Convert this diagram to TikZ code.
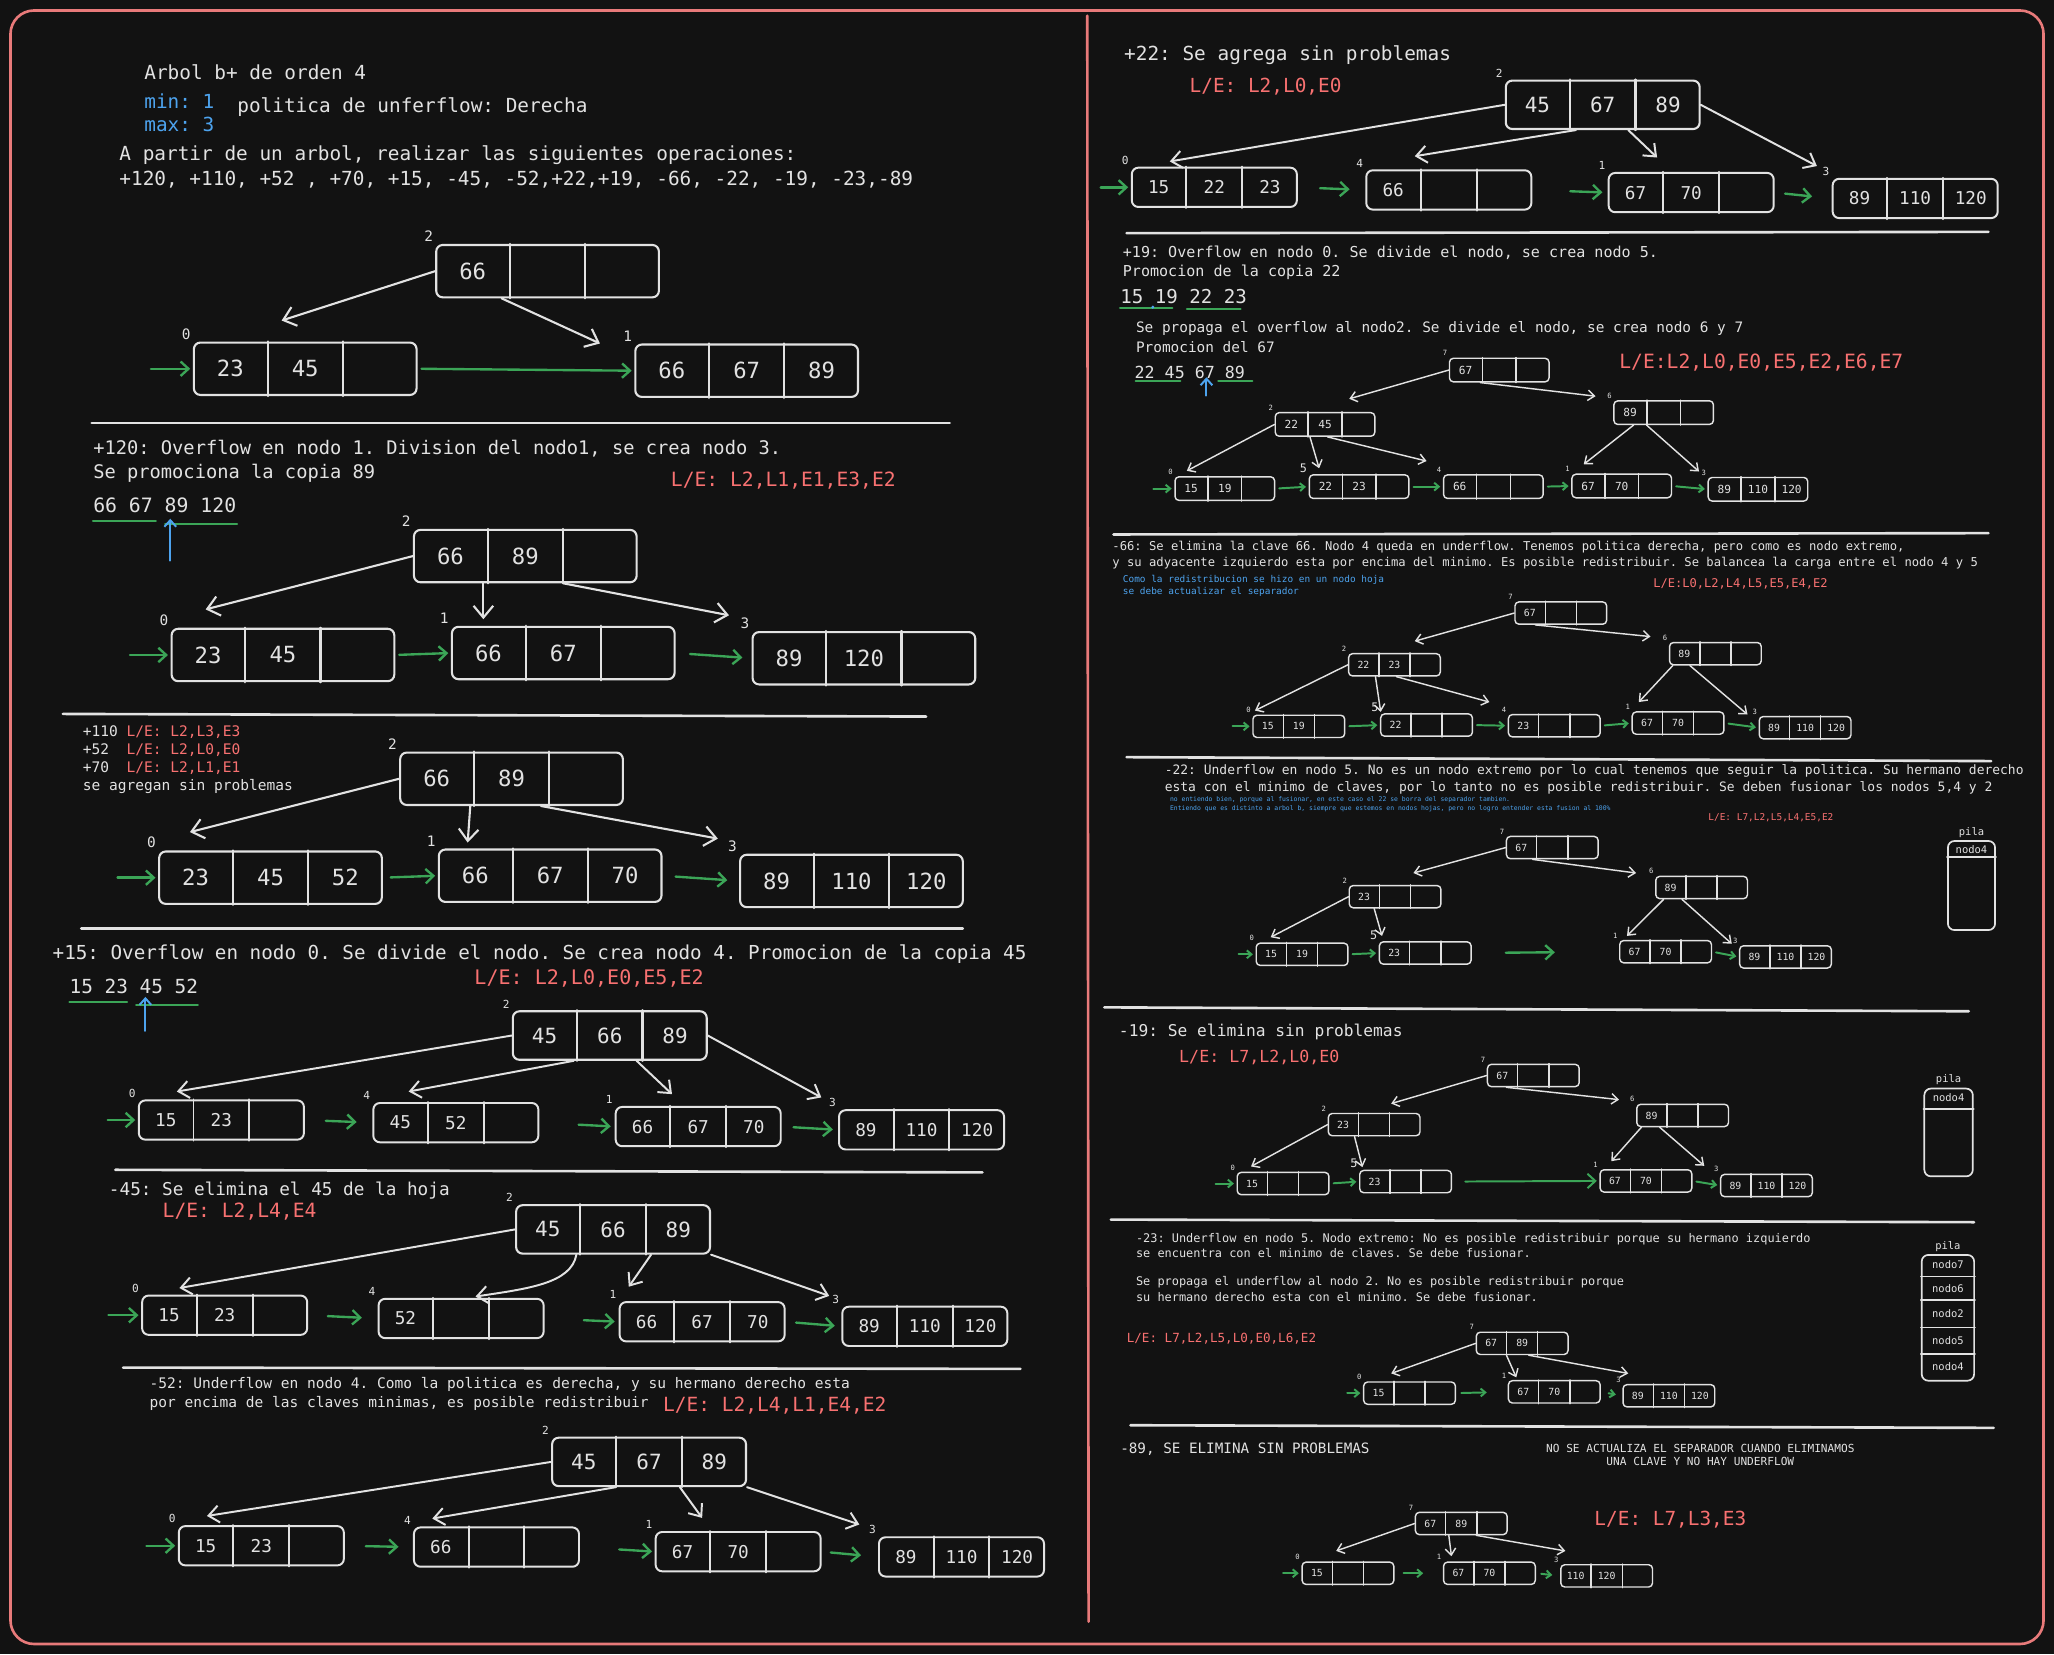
\documentclass[tikz,border=0pt]{standalone}
\usepackage{fontspec}
\setmainfont{DejaVu Sans Mono}
\usepackage{tikz}
\usetikzlibrary{arrows.meta, positioning, calc}
\definecolor{bgDark}{HTML}{121212}
\definecolor{frameRed}{HTML}{E87A7A}
\definecolor{inkWhite}{HTML}{E2E2E2}
\definecolor{leRed}{HTML}{F87171}
\definecolor{noteBlue}{HTML}{4DA3EE}
\definecolor{linkGreen}{HTML}{3BA557}
\frenchspacing

\newcommand{\bpnode}[7]{%
  \node[#1box] (#2) at (#3) {};
  \draw[#1cell] ($(#2.north west)!0.333!(#2.north east)$) -- ($(#2.south west)!0.333!(#2.south east)$);
  \draw[#1cell] ($(#2.north west)!0.667!(#2.north east)$) -- ($(#2.south west)!0.667!(#2.south east)$);
  \node[#1key] (#2-k1) at ($(#2.west)!0.167!(#2.east)$) {#5};
  \node[#1key] (#2-k2) at (#2.center) {#6};
  \node[#1key] (#2-k3) at ($(#2.west)!0.833!(#2.east)$) {#7};
  \node[#1num] (#2-n) at (#2.north west) {#4};
}

\begin{document}
\frenchspacing
\begin{tikzpicture}[x=1pt, y=-1pt, line cap=round, line join=round,
  txt/.style={inner sep=0pt, anchor=west, align=left, text=inkWhite},
  le/.style={txt, text=leRed},
  note/.style={txt, text=noteBlue},
  bigbox/.style={draw=inkWhite, line width=1.6pt, rounded corners=5pt, inner sep=0pt,
                 minimum width=170pt, minimum height=40pt},
  midtopbox/.style={bigbox, minimum width=148pt, minimum height=37pt},
  midbox/.style={bigbox, line width=1.5pt, minimum width=126pt, minimum height=30pt},
  smallbox/.style={bigbox, line width=1.1pt, rounded corners=3pt, minimum width=76pt, minimum height=18pt},
  tinybox/.style={smallbox, minimum width=70pt, minimum height=17pt},
  bigcell/.style={draw=inkWhite, line width=1.6pt},
  midtopcell/.style={bigcell},
  midcell/.style={bigcell, line width=1.5pt},
  smallcell/.style={bigcell, line width=1.1pt},
  tinycell/.style={smallcell},
  bigkey/.style={inner sep=0pt, text=inkWhite, font=\fontsize{17}{17}\selectfont},
  midtopkey/.style={bigkey, font=\fontsize{16}{16}\selectfont},
  midkey/.style={bigkey, font=\fontsize{13.5}{13.5}\selectfont},
  smallkey/.style={bigkey, font=\fontsize{8.5}{8.5}\selectfont},
  tinykey/.style={bigkey, font=\fontsize{7.5}{7.5}\selectfont},
  bignum/.style={inner sep=1.5pt, anchor=south east, text=inkWhite, font=\fontsize{11}{11}\selectfont},
  midtopnum/.style={bignum, font=\fontsize{8.5}{8.5}\selectfont},
  midnum/.style={midtopnum},
  smallnum/.style={bignum, inner sep=1pt, font=\fontsize{5.5}{5.5}\selectfont},
  tinynum/.style={smallnum},
  tarr/.style={draw=inkWhite, line width=1.6pt, -{Straight Barb[length=9pt,width=15pt]}},
  mtarr/.style={tarr, line width=1.5pt, -{Straight Barb[length=8pt,width=13pt]}},
  starr/.style={tarr, line width=1.1pt, -{Straight Barb[length=5pt,width=8pt]}},
  garr/.style={draw=linkGreen, line width=1.8pt, -{Straight Barb[length=6pt,width=11pt]},
               shorten <=3pt, shorten >=2pt},
  sgarr/.style={garr, line width=1.5pt, -{Straight Barb[length=3.5pt,width=6pt]}},
  barr/.style={draw=noteBlue, line width=1.5pt, -{Straight Barb[length=5pt,width=9pt]}},
  uline/.style={draw=linkGreen, line width=1.6pt},
  sepline/.style={draw=inkWhite, line width=2pt},
  pilabox/.style={draw=inkWhite, line width=1.3pt, rounded corners=5pt, inner sep=0pt},
  pilaline/.style={draw=inkWhite, line width=1.3pt},
  pilatxt/.style={inner sep=0pt, text=inkWhite, font=\fontsize{8}{8}\selectfont}
]
  \useasboundingbox (0,0) rectangle (1568,1263);
  \fill[bgDark] (0,0) rectangle (1568,1263);
  \draw[frameRed, line width=2pt, rounded corners=18pt] (8,8) rectangle (1560,1255);
  \draw[frameRed, line width=2pt] (830,12) -- (831,1238);

  % enunciado
  \node[txt, font=\fontsize{14.8}{18}\selectfont] (title) at (110,55) {Arbol b+ de orden 4};
  \node[note, font=\fontsize{14.8}{18}\selectfont] (minmax) at (110,86) {min: 1\\max: 3};
  \node[txt, font=\fontsize{14.8}{18}\selectfont] (policy) at (181,82) {politica de unferflow: Derecha};
  \node[txt, font=\fontsize{14.8}{19}\selectfont] (ops) at (91,127.5) {A partir de un arbol, realizar las siguientes operaciones:\\+120, +110, +52 , +70, +15, -45, -52,+22,+19, -66, -22, -19, -23,-89};

  \bpnode{big}{r1}{418,207}{2}{66}{}{}
  \bpnode{big}{n1a}{233,281.5}{0}{23}{45}{}
  \bpnode{big}{n1b}{570,283}{1}{66}{67}{89}
  \draw[tarr] (r1.west) -- ([xshift=-18pt,yshift=16pt]n1a.north);
  \draw[tarr] ([xshift=-35pt]r1.south) -- ([xshift=-112pt]n1b.north);
  \draw[garr] ([xshift=-35pt]n1a.west) -- (n1a.west);
  \draw[garr] (n1a.east) -- (n1b.west);
  \draw[sepline] (70,323) -- (725,323);

  % +120
  \node[txt, font=\fontsize{14.3}{18}\selectfont] (op120) at (71,352) {+120: Overflow en nodo 1. Division del nodo1, se crea nodo 3.\\Se promociona la copia 89};
  \node[le, font=\fontsize{15}{15}\selectfont] (le120) at (512,367) {L/E: L2,L1,E1,E3,E2};
  \node[txt, font=\fontsize{15.1}{15}\selectfont] (seq1) at (71,386) {66 67 89 120};
  \draw[uline] ([yshift=-12pt]seq1.west) -- ++(48,0);
  \draw[uline] ([xshift=55pt,yshift=-14pt]seq1.west) -- ++(55,0);
  \draw[barr] ([xshift=59pt,yshift=-42pt]seq1.west) -- ([xshift=59pt,yshift=-10pt]seq1.west);

  \bpnode{big}{r2}{401,424.5}{2}{66}{89}{}
  \bpnode{big}{n2a}{216,500}{0}{23}{45}{}
  \bpnode{big}{n2b}{430,498.5}{1}{66}{67}{}
  \bpnode{big}{n2c}{659.5,502.5}{3}{89}{120}{}
  \draw[tarr] (r2.west) -- ([xshift=-59pt,yshift=14pt]n2a.north);
  \draw[tarr] ([xshift=-32pt]r2.south) -- ([xshift=-61pt,yshift=5pt]n2b.north);
  \draw[tarr] ([xshift=29pt]r2.south) -- ([xshift=-103pt,yshift=12pt]n2c.north);
  \draw[garr] ([xshift=-34pt]n2a.west) -- (n2a.west);
  \draw[garr] (n2a.east) -- (n2b.west);
  \draw[garr, shorten <=11pt, shorten >=7pt] (n2b.east) -- (n2c.west);
  \draw[sepline] (48,545) -- (707,547);

  % +110 +52 +70
  \node[txt, font=\fontsize{11.1}{13.8}\selectfont] (op110) at (63,580) {+110\hphantom{0}\textcolor{leRed}{L/E: L2,L3,E3}\\+52\hphantom{00}\textcolor{leRed}{L/E: L2,L0,E0}\\+70\hphantom{00}\textcolor{leRed}{L/E: L2,L1,E1}\\se agregan sin problemas};

  \bpnode{big}{r3}{390.5,594.5}{2}{66}{89}{}
  \bpnode{big}{n3a}{206.5,670}{0}{23}{45}{52}
  \bpnode{big}{n3b}{420,668.5}{1}{66}{67}{70}
  \bpnode{big}{n3c}{650,672.5}{3}{89}{110}{120}
  \draw[tarr] (r3.west) -- ([xshift=-61.5pt,yshift=14pt]n3a.north);
  \draw[tarr] ([xshift=-31.5pt]r3.south) -- ([xshift=-63pt,yshift=4.5pt]n3b.north);
  \draw[tarr] ([xshift=22.5pt]r3.south) -- ([xshift=-102pt,yshift=11.5pt]n3c.north);
  \draw[garr] ([xshift=-34pt]n3a.west) -- (n3a.west);
  \draw[garr, shorten <=6pt] (n3a.east) -- (n3b.west);
  \draw[garr, shorten <=10pt, shorten >=9pt] (n3b.east) -- (n3c.west);
  \draw[sepline] (62,709) -- (735,709);

  % +15
  \node[txt, font=\fontsize{14.7}{18}\selectfont] (op15) at (40,728) {+15: Overflow en nodo 0. Se divide el nodo. Se crea nodo 4. Promocion de la copia 45};
  \node[le, font=\fontsize{15.3}{15}\selectfont] (le15) at (362,747) {L/E: L2,L0,E0,E5,E2};
  \node[txt, font=\fontsize{14.8}{15}\selectfont] (seq2) at (53,753) {15 23 45 52};
  \draw[uline] ([yshift=-12pt]seq2.west) -- ++(44,0);
  \draw[uline] ([xshift=51pt,yshift=-14pt]seq2.west) -- ++(47,0);
  \draw[barr] ([xshift=58pt,yshift=-34pt]seq2.west) -- ([xshift=58pt,yshift=-8pt]seq2.west);

  \bpnode{midtop}{r4}{465.5,790.5}{2}{45}{66}{89}
  \bpnode{mid}{n4a}{169,855}{0}{15}{23}{}
  \bpnode{mid}{n4b}{348,857}{4}{45}{52}{}
  \bpnode{mid}{n4c}{533,860}{1}{66}{67}{70}
  \bpnode{mid}{n4d}{703.5,862.5}{3}{89}{110}{120}
  \draw[mtarr] (r4.west) -- ([xshift=-34pt,yshift=6pt]n4a.north);
  \draw[mtarr] ([xshift=-27.5pt]r4.south) -- ([xshift=-36pt,yshift=8pt]n4b.north);
  \draw[mtarr] ([xshift=20.5pt]r4.south) -- ([xshift=-20pt,yshift=9pt]n4c.north);
  \draw[mtarr] (r4.east) -- ([xshift=-76.5pt,yshift=9pt]n4d.north);
  \draw[garr] ([xshift=-26pt]n4a.west) -- (n4a.west);
  \draw[garr, shorten <=16pt, shorten >=12pt] (n4a.east) -- (n4b.west);
  \draw[garr, shorten <=30pt, shorten >=3pt] (n4b.east) -- (n4c.west);
  \draw[garr, shorten <=9pt, shorten >=4pt] (n4c.east) -- (n4d.west);
  \draw[sepline] (88,893) -- (750,895);

  % -45
  \node[txt, font=\fontsize{13.5}{15}\selectfont] (op45) at (83,909) {-45: Se elimina el 45 de la hoja};
  \node[le, font=\fontsize{15}{15}\selectfont] (le45) at (124,925) {L/E: L2,L4,E4};

  \bpnode{midtop}{r5}{468,938.5}{2}{45}{66}{89}
  \bpnode{mid}{n5a}{171.5,1004}{0}{15}{23}{}
  \bpnode{mid}{n5b}{352,1006.5}{4}{52}{}{}
  \bpnode{mid}{n5c}{536,1009}{1}{66}{67}{70}
  \bpnode{mid}{n5d}{706,1012.5}{3}{89}{110}{120}
  \draw[mtarr] (r5.west) -- ([xshift=-34.5pt,yshift=5pt]n5a.north);
  \draw[mtarr] ([xshift=-28pt]r5.south) .. controls +(-4,22) and +(40,-6) .. ([xshift=11pt,yshift=1pt]n5b.north);
  \draw[mtarr] ([xshift=29pt]r5.south) -- ([xshift=-56pt,yshift=11pt]n5c.north);
  \draw[mtarr] (r5.south east) -- ([xshift=-73pt,yshift=7.5pt]n5d.north);
  \draw[garr] ([xshift=-28pt]n5a.west) -- (n5a.west);
  \draw[garr, shorten <=15pt, shorten >=12pt] (n5a.east) -- (n5b.west);
  \draw[garr, shorten <=30pt, shorten >=3pt] (n5b.east) -- (n5c.west);
  \draw[garr, shorten <=8pt, shorten >=5pt] (n5c.east) -- (n5d.west);
  \draw[sepline] (94,1044) -- (779,1045);

  % -52
  \node[txt, font=\fontsize{11.1}{14}\selectfont] (op52) at (114,1064) {-52: Underflow en nodo 4. Como la politica es derecha, y su hermano derecho esta\\por encima de las claves minimas, es posible redistribuir};
  \node[le, font=\fontsize{14.9}{15}\selectfont] (le52) at (506,1073) {L/E: L2,L4,L1,E4,E2};

  \bpnode{midtop}{r6}{495.5,1116}{2}{45}{67}{89}
  \bpnode{mid}{n6a}{199.5,1180}{0}{15}{23}{}
  \bpnode{mid}{n6b}{379,1181}{4}{66}{}{}
  \bpnode{mid}{n6c}{563.5,1184.5}{1}{67}{70}{}
  \bpnode{mid}{n6d}{734,1188.5}{3}{89}{110}{120}
  \draw[mtarr] (r6.west) -- ([xshift=-41.5pt,yshift=7pt]n6a.north);
  \draw[mtarr] ([xshift=-25.5pt]r6.south) -- ([xshift=-49pt,yshift=6pt]n6b.north);
  \draw[mtarr] ([xshift=23.5pt]r6.south) -- ([xshift=-27.5pt,yshift=10pt]n6c.north);
  \draw[mtarr] (r6.south east) -- ([xshift=-78pt,yshift=9pt]n6d.north);
  \draw[garr] ([xshift=-27pt]n6a.west) -- (n6a.west);
  \draw[garr, shorten <=16pt, shorten >=11pt] (n6a.east) -- (n6b.west);
  \draw[garr, shorten <=30pt, shorten >=2pt] (n6b.east) -- (n6c.west);
  \draw[garr, shorten <=7pt, shorten >=13pt] (n6c.east) -- (n6d.west);

  % +22
  \node[txt, font=\fontsize{14.8}{15}\selectfont] (op22) at (858,42) {+22: Se agrega sin problemas};
  \node[le, font=\fontsize{14.8}{15}\selectfont] (le22) at (908,66) {L/E: L2,L0,E0};

  \bpnode{midtop}{r7}{1223.5,80}{2}{45}{67}{89}
  \bpnode{mid}{n7a}{927,143}{0}{15}{22}{23}
  \bpnode{mid}{n7b}{1106,145}{4}{66}{}{}
  \bpnode{mid}{n7c}{1291,147}{1}{67}{70}{}
  \bpnode{mid}{n7d}{1462,151.5}{3}{89}{110}{120}
  \draw[mtarr] (r7.west) -- ([xshift=-34pt,yshift=4pt]n7a.north);
  \draw[mtarr] ([xshift=-20.5pt]r7.south) -- ([xshift=-26pt,yshift=10pt]n7b.north);
  \draw[mtarr] ([xshift=19.5pt]r7.south) -- ([xshift=-26pt,yshift=11pt]n7c.north);
  \draw[mtarr] (r7.east) -- ([xshift=-75pt,yshift=9pt]n7d.north);
  \draw[garr] ([xshift=-26pt]n7a.west) -- (n7a.west);
  \draw[garr, shorten <=17pt, shorten >=12pt] (n7a.east) -- (n7b.west);
  \draw[garr, shorten <=29pt, shorten >=4pt] (n7b.east) -- (n7c.west);
  \draw[garr, shorten <=8pt, shorten >=15pt] (n7c.east) -- (n7d.west);
  \draw[sepline] (860,178) -- (1518,177);

  % +19
  \node[txt, font=\fontsize{11.5}{15}\selectfont] (op19) at (857,200.5) {+19: Overflow en nodo 0. Se divide el nodo, se crea nodo 5.\\Promocion de la copia 22};
  \node[txt, font=\fontsize{14.6}{15}\selectfont] (seq3) at (855,226) {15 19 22 23};
  \draw[uline] ([yshift=-9pt]seq3.west) -- ++(40,0);
  \draw[uline] ([xshift=51pt,yshift=-10pt]seq3.west) -- ++(41,0);
  \fill[noteBlue] ([xshift=25pt,yshift=-8.5pt]seq3.west) circle (1.3pt);
  \node[txt, font=\fontsize{11}{15}\selectfont] (op19b) at (867,257.5) {Se propaga el overflow al nodo2. Se divide el nodo, se crea nodo 6 y 7\\Promocion del 67};
  \node[txt, font=\fontsize{12.7}{13}\selectfont] (seq4) at (866,284) {22 45 67 89};
  \draw[uline] ([xshift=1pt,yshift=-7pt]seq4.west) -- ++(34,0);
  \draw[uline] ([xshift=64pt,yshift=-7pt]seq4.west) -- ++(26,0);
  \draw[barr] ([xshift=55pt,yshift=-18pt]seq4.west) -- ([xshift=55pt,yshift=-4pt]seq4.west);
  \node[le, font=\fontsize{15}{15}\selectfont] (le19) at (1236,277) {L/E:L2,L0,E0,E5,E2,E6,E7};

  \bpnode{small}{a7}{1144.5,282.5}{7}{67}{}{}
  \bpnode{small}{a2}{1011.5,324}{2}{22}{45}{}
  \bpnode{small}{a6}{1270,315}{6}{89}{}{}
  \bpnode{small}{a0}{935,373}{0}{15}{19}{}
  \bpnode{small}{a5}{1037.5,371.5}{\fontsize{9}{9}\selectfont 5}{22}{23}{}
  \bpnode{small}{a4}{1140,371.5}{4}{66}{}{}
  \bpnode{small}{a1}{1238,371}{1}{67}{70}{}
  \bpnode{small}{a3}{1342,373.5}{3}{89}{110}{120}
  \draw[starr] (a7.west) -- ([xshift=18.5pt,yshift=10pt]a2.north);
  \draw[starr] ([xshift=-14.5pt]a7.south) -- ([xshift=-52pt,yshift=3pt]a6.north);
  \draw[starr] (a2.west) -- ([xshift=-29pt,yshift=4pt]a0.north);
  \draw[starr] ([xshift=-11.5pt]a2.south) -- ([xshift=-30.5pt,yshift=4.5pt]a5.north);
  \draw[starr] ([xshift=2pt]a2.south) -- ([xshift=-51pt,yshift=10pt]a4.north);
  \draw[starr] ([xshift=-23pt]a6.south) -- ([xshift=-29pt,yshift=7pt]a1.north);
  \draw[starr] ([xshift=-13pt]a6.south) -- ([xshift=-45pt,yshift=4pt]a3.north);
  \draw[sgarr] ([xshift=-19pt]a0.west) -- (a0.west);
  \draw[sgarr] (a0.east) -- (a5.west);
  \draw[sgarr] (a5.east) -- (a4.west);
  \draw[sgarr] (a4.east) -- (a1.west);
  \draw[sgarr] (a1.east) -- (a3.west);
  \draw[sepline] (850,408) -- (1518,407);

  % -66
  \node[txt, font=\fontsize{9.3}{12}\selectfont] (op66) at (849,424) {-66: Se elimina la clave 66. Nodo 4 queda en underflow. Tenemos politica derecha, pero como es nodo extremo,\\y su adyacente izquierdo esta por encima del minimo. Es posible redistribuir. Se balancea la carga entre el nodo 4 y 5};
  \node[note, font=\fontsize{7.2}{9}\selectfont] (nb66) at (857,447.5) {Como la redistribucion se hizo en un nodo hoja\\se debe actualizar el separador};
  \node[le, font=\fontsize{9.2}{9}\selectfont] (le66) at (1262,446) {L/E:L0,L2,L4,L5,E5,E4,E2};

  \bpnode{tiny}{b7}{1191.5,468}{7}{67}{}{}
  \bpnode{tiny}{b2}{1064.5,507.5}{2}{22}{23}{}
  \bpnode{tiny}{b6}{1309.5,499}{6}{89}{}{}
  \bpnode{tiny}{b0}{991.5,554.5}{0}{15}{19}{}
  \bpnode{tiny}{b5}{1089,553.5}{\fontsize{9}{9}\selectfont 5}{22}{}{}
  \bpnode{tiny}{b4}{1186.5,554}{4}{23}{}{}
  \bpnode{tiny}{b1}{1281,552}{1}{67}{70}{}
  \bpnode{tiny}{b3}{1378,555.5}{3}{89}{110}{120}
  \draw[starr] (b7.west) -- ([xshift=15.5pt,yshift=9pt]b2.north);
  \draw[starr] ([xshift=-19.5pt]b7.south) -- ([xshift=-49.5pt,yshift=4pt]b6.north);
  \draw[starr] (b2.west) -- ([xshift=-33.5pt,yshift=3pt]b0.north);
  \draw[starr] ([xshift=-14.5pt]b2.south) -- ([xshift=-35pt,yshift=1pt]b5.north);
  \draw[starr] ([xshift=1.5pt]b2.south) -- ([xshift=-49.5pt,yshift=9pt]b4.north);
  \draw[starr] ([xshift=-32.5pt]b6.south) -- ([xshift=-30pt,yshift=7pt]b1.north);
  \draw[starr] ([xshift=-19.5pt]b6.south) -- ([xshift=-44pt,yshift=1pt]b3.north);
  \draw[sgarr] ([xshift=-18pt]b0.west) -- (b0.west);
  \draw[sgarr] (b0.east) -- (b5.west);
  \draw[sgarr] (b5.east) -- (b4.west);
  \draw[sgarr] (b4.east) -- (b1.west);
  \draw[sgarr] (b1.east) -- (b3.west);
  \draw[sepline] (860,578) -- (1520,581);

  % -22
  \node[txt, font=\fontsize{9.9}{13.5}\selectfont] (opm22) at (889,595) {-22: Underflow en nodo 5. No es un nodo extremo por lo cual tenemos que seguir la politica. Su hermano derecho\\esta con el minimo de claves, por lo tanto no es posible redistribuir. Se deben fusionar los nodos 5,4 y 2};
  \node[note, font=\fontsize{4.9}{6.5}\selectfont] (nbm22) at (893,614) {no entiendo bien, porque al fusionar, en este caso el 22 se borra del separador tambien.\\Entiendo que es distinto a arbol b, siempre que estemos en nodos hojas, pero no logro entender esta fusion al 100\%};
  \node[le, font=\fontsize{7.2}{7}\selectfont] (lem22) at (1304,624) {L/E: L7,L2,L5,L4,E5,E2};

  \bpnode{tiny}{c7}{1185,647}{7}{67}{}{}
  \bpnode{tiny}{c2}{1065,684.5}{2}{23}{}{}
  \bpnode{tiny}{c6}{1299,677.5}{6}{89}{}{}
  \bpnode{tiny}{c0}{994,728.5}{0}{15}{19}{}
  \bpnode{tiny}{c5}{1088,727.5}{\fontsize{9}{9}\selectfont 5}{23}{}{}
  \bpnode{tiny}{c1}{1271.5,726.5}{1}{67}{70}{}
  \bpnode{tiny}{c3}{1363,730.5}{3}{89}{110}{120}
  \draw[starr] (c7.west) -- ([xshift=14pt,yshift=9pt]c2.north);
  \draw[starr] ([xshift=-15pt]c7.south) -- ([xshift=-50pt,yshift=2pt]c6.north);
  \draw[starr] (c2.west) -- ([xshift=-24pt,yshift=4pt]c0.north);
  \draw[starr] ([xshift=-16pt]c2.south) -- ([xshift=-33pt,yshift=4pt]c5.north);
  \draw[starr] ([xshift=-29pt]c6.south) -- ([xshift=-29.5pt,yshift=3pt]c1.north);
  \draw[starr] ([xshift=-15pt]c6.south) -- ([xshift=-41pt,yshift=1pt]c3.north);
  \draw[sgarr] ([xshift=-16pt]c0.west) -- (c0.west);
  \draw[sgarr] (c0.east) -- (c5.west);
  \draw[garr, shorten <=26pt, shorten >=49pt] (c5.east) -- (c1.west);
  \draw[sgarr] (c1.east) -- (c3.west);

  \node[pilabox, minimum width=36pt, minimum height=68pt] (pila1) at (1505,676) {};
  \draw[pilaline] ([yshift=-13pt]pila1.north west) -- ([yshift=-13pt]pila1.north east);
  \node[pilatxt] (pila1-a) at ([yshift=-7pt]pila1.north) {nodo4};
  \node[pilatxt, anchor=south] (pila1-t) at ([yshift=2pt]pila1.north) {pila};
  \draw[sepline] (843,769) -- (1503,772);

  % -19
  \node[txt, font=\fontsize{12.4}{13}\selectfont] (opm19) at (854,788) {-19: Se elimina sin problemas};
  \node[le, font=\fontsize{12.7}{13}\selectfont] (lem19) at (900,807) {L/E: L7,L2,L0,E0};

  \bpnode{tiny}{d7}{1170.5,821}{7}{67}{}{}
  \bpnode{tiny}{d2}{1049,858.5}{2}{23}{}{}
  \bpnode{tiny}{d6}{1284.5,851.5}{6}{89}{}{}
  \bpnode{tiny}{d0}{979.5,903.5}{0}{15}{}{}
  \bpnode{tiny}{d5}{1073,902}{\fontsize{9}{9}\selectfont 5}{23}{}{}
  \bpnode{tiny}{d1}{1256.5,901.5}{1}{67}{70}{}
  \bpnode{tiny}{d3}{1348.5,905}{3}{89}{110}{120}
  \draw[starr] (d7.west) -- ([xshift=13pt,yshift=7pt]d2.north);
  \draw[starr] ([xshift=-20.5pt]d7.south) -- ([xshift=-48.5pt,yshift=3pt]d6.north);
  \draw[starr] (d2.west) -- ([xshift=-24.5pt,yshift=4pt]d0.north);
  \draw[starr] ([xshift=-15pt]d2.south) -- ([xshift=-33pt,yshift=2pt]d5.north);
  \draw[starr] ([xshift=-31.5pt]d6.south) -- ([xshift=-26.5pt,yshift=6pt]d1.north);
  \draw[starr] ([xshift=-17.5pt]d6.south) -- ([xshift=-47.5pt,yshift=6pt]d3.north);
  \draw[sgarr] ([xshift=-19pt]d0.west) -- (d0.west);
  \draw[sgarr] (d0.east) -- (d5.west);
  \draw[garr, line width=1.5pt, shorten <=10pt, shorten >=2pt] (d5.east) -- (d1.west);
  \draw[sgarr] (d1.east) -- (d3.west);

  \node[pilabox, minimum width=37pt, minimum height=67pt] (pila2) at (1487.5,864.5) {};
  \draw[pilaline] ([yshift=-16pt]pila2.north west) -- ([yshift=-16pt]pila2.north east);
  \node[pilatxt] (pila2-a) at ([yshift=-7.5pt]pila2.north) {nodo4};
  \node[pilatxt, anchor=south] (pila2-t) at ([yshift=2pt]pila2.north) {pila};
  \draw[sepline] (848,931) -- (1507,933);

  % -23
  \node[txt, font=\fontsize{9.1}{11.6}\selectfont] (opm23) at (867,951) {-23: Underflow en nodo 5. Nodo extremo: No es posible redistribuir porque su hermano izquierdo\\se encuentra con el minimo de claves. Se debe fusionar.};
  \node[txt, font=\fontsize{9.1}{11.6}\selectfont] (opm23b) at (867,984) {Se propaga el underflow al nodo 2. No es posible redistribuir porque\\su hermano derecho esta con el minimo. Se debe fusionar.};
  \node[le, font=\fontsize{9.6}{10}\selectfont] (lem23) at (860,1022) {L/E: L7,L2,L5,L0,E0,L6,E2};

  \bpnode{tiny}{e7}{1162,1025.5}{7}{67}{89}{}
  \bpnode{tiny}{e0}{1076,1063.5}{0}{15}{}{}
  \bpnode{tiny}{e1}{1186.5,1062.5}{1}{67}{70}{}
  \bpnode{tiny}{e3}{1274,1065.5}{3}{89}{110}{120}
  \draw[starr] (e7.west) -- ([xshift=-14pt,yshift=6pt]e0.north);
  \draw[starr] ([xshift=-12pt]e7.south) -- ([xshift=-29pt,yshift=2pt]e1.north);
  \draw[starr] ([xshift=5pt]e7.south) -- ([xshift=-31pt,yshift=8pt]e3.north);
  \draw[sgarr] ([xshift=-15pt]e0.west) -- (e0.west);
  \draw[sgarr, shorten <=4pt, shorten >=16pt] (e0.east) -- (e1.west);
  \draw[sgarr, shorten <=6pt, shorten >=5pt] (e1.east) -- (e3.west);

  \node[pilabox, minimum width=40pt, minimum height=96pt] (pila3) at (1487,1006) {};
  \draw[pilaline] ([yshift=-17pt]pila3.north west) -- ([yshift=-17pt]pila3.north east);
  \draw[pilaline] ([yshift=-35pt]pila3.north west) -- ([yshift=-35pt]pila3.north east);
  \draw[pilaline] ([yshift=-56pt]pila3.north west) -- ([yshift=-56pt]pila3.north east);
  \draw[pilaline] ([yshift=-76pt]pila3.north west) -- ([yshift=-76pt]pila3.north east);
  \node[pilatxt] (pila3-a) at ([yshift=-8pt]pila3.north) {nodo7};
  \node[pilatxt] (pila3-b) at ([yshift=-26.5pt]pila3.north) {nodo6};
  \node[pilatxt] (pila3-c) at ([yshift=-45.5pt]pila3.north) {nodo2};
  \node[pilatxt] (pila3-d) at ([yshift=-66pt]pila3.north) {nodo5};
  \node[pilatxt] (pila3-e) at ([yshift=-86pt]pila3.north) {nodo4};
  \node[pilatxt, anchor=south] (pila3-t) at ([yshift=2pt]pila3.north) {pila};
  \draw[sepline] (863,1088) -- (1522,1090);

  % -89
  \node[txt, font=\fontsize{10.9}{11}\selectfont] (opm89) at (855,1106) {-89, SE ELIMINA SIN PROBLEMAS};
  \node[txt, anchor=center, align=center, font=\fontsize{8.5}{10}\selectfont] (nm89) at (1298,1111) {NO SE ACTUALIZA EL SEPARADOR CUANDO ELIMINAMOS\\UNA CLAVE Y NO HAY UNDERFLOW};
  \node[le, font=\fontsize{14.8}{15}\selectfont] (lem89) at (1217,1160) {L/E: L7,L3,E3};

  \bpnode{tiny}{f7}{1115.5,1163}{7}{67}{89}{}
  \bpnode{tiny}{f0}{1029,1201}{0}{15}{}{}
  \bpnode{tiny}{f1}{1137,1201}{1}{67}{70}{}
  \bpnode{tiny}{f3}{1226.5,1203}{3}{110}{120}{}
  \draw[starr] (f7.west) -- ([xshift=-9pt,yshift=8pt]f0.north);
  \draw[starr] ([xshift=-9.5pt]f7.south) -- ([xshift=-29pt,yshift=4pt]f1.north);
  \draw[starr] ([xshift=11.5pt]f7.south) -- ([xshift=-31.5pt,yshift=10pt]f3.north);
  \draw[sgarr] ([xshift=-17pt]f0.west) -- (f0.west);
  \draw[sgarr, shorten <=7pt, shorten >=15pt] (f0.east) -- (f1.west);
  \draw[sgarr, shorten <=4pt, shorten >=6pt] (f1.east) -- (f3.west);
\end{tikzpicture}
\end{document}
